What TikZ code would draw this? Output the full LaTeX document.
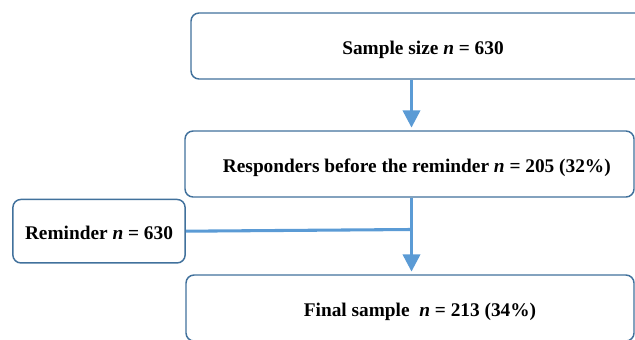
\documentclass[tikz,border=0pt]{standalone}
\usepackage{fontspec}
\setmainfont{Liberation Serif}
\usetikzlibrary{arrows.meta}

\definecolor{boxline}{HTML}{41719C}
\definecolor{flowblue}{HTML}{5B9BD5}

\begin{document}
\begin{tikzpicture}[
            x=0.75pt, y=-0.75pt,
            >={Triangle[width=13pt, length=13pt]},
            font=\fontsize{14.5}{17}\selectfont\bfseries,
            stage/.style={
                draw=boxline,
                line width=1.1pt,
                rounded corners=6pt,
                fill=white,
                inner sep=0pt,
                text height=13pt,
                text depth=0pt,
                align=center
            },
            flow/.style={
                draw=flowblue,
                line width=2.3pt
            }
        ]
            \clip (0,0) rectangle (635,339);
            \node[stage, minimum width=348pt, minimum height=49.5pt] (sample) at (423,46) {Sample size \textit{n} = 630};
            \node[stage, minimum width=336.75pt, minimum height=49.5pt] (resp) at (409.5,164) {\hspace*{11pt}Responders before the reminder \textit{n} = 205 (32\%)};
            \node[stage, minimum width=129.2pt, minimum height=47.6pt] (remind) at (99,231.2) {Reminder \textit{n} = 630};
            \node[stage, minimum width=336pt, minimum height=49.5pt] (final) at (410,308) {\hspace*{15pt}Final sample\ \ \textit{n} = 213 (34\%)};
            \coordinate (join) at (411.5,229.5);
            \draw[flow, ->, shorten >=2pt] (sample.south -| join) -- (resp.north -| join);
            \draw[flow] (remind.east) -- (join);
            \draw[flow, ->, shorten >=2pt] (resp.south -| join) -- (final.north -| join);
        \end{tikzpicture}
\end{document}
